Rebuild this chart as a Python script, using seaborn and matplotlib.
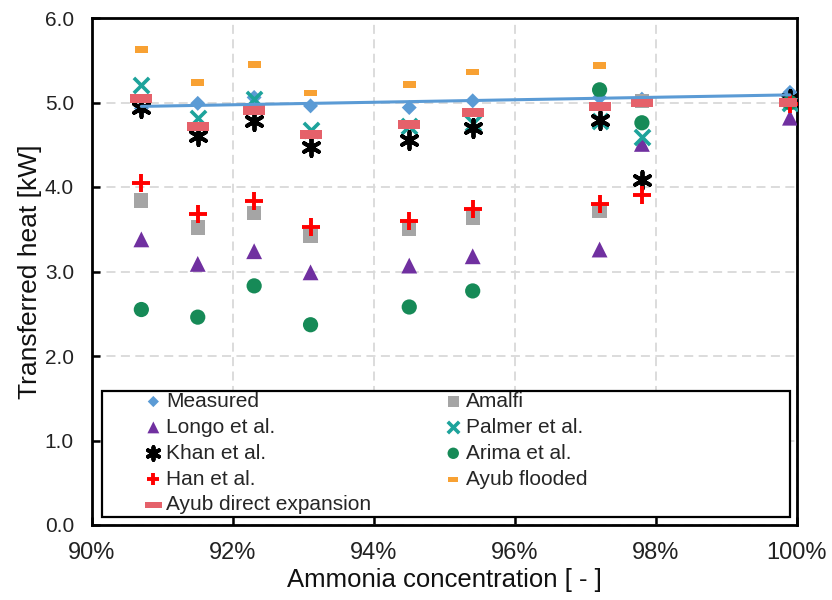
import numpy as np
import pandas as pd
import matplotlib
matplotlib.use("Agg")
import matplotlib.pyplot as plt
from matplotlib.patches import Rectangle
from matplotlib.ticker import FuncFormatter
import seaborn as sns

# ---- data ----
concentration = [0.907, 0.915, 0.923, 0.931, 0.945, 0.954, 0.972, 0.978, 0.999]
measured      = [4.93, 4.99, 5.06, 4.96, 4.94, 5.02, 5.06, 5.04, 5.12]
amalfi        = [3.84, 3.52, 3.69, 3.42, 3.51, 3.63, 3.72, 5.02, 5.00]
longo         = [3.38, 3.09, 3.24, 2.99, 3.07, 3.18, 3.26, 4.51, 4.82]
palmer        = [5.21, 4.82, 5.04, 4.68, 4.72, 4.76, 4.78, 4.59, 5.00]
khan          = [4.94, 4.60, 4.78, 4.47, 4.56, 4.70, 4.79, 4.08, 5.04]
arima         = [2.55, 2.46, 2.83, 2.37, 2.58, 2.77, 5.15, 4.76, 5.00]
han           = [4.05, 3.68, 3.84, 3.53, 3.60, 3.74, 3.80, 3.91, 4.98]
ayub_flooded  = [5.63, 5.24, 5.45, 5.11, 5.21, 5.36, 5.44, np.nan, 5.02]
ayub_dx       = [5.05, 4.72, 4.91, 4.62, 4.74, 4.88, 4.95, 5.00, 5.00]

x_ticks = [0.90, 0.92, 0.94, 0.96, 0.98, 1.00]
y_ticks = [0.0, 1.0, 2.0, 3.0, 4.0, 5.0, 6.0]

sns.set_theme(style="white")
plt.rcParams["font.family"] = ["Liberation Sans", "DejaVu Sans"]

fig = plt.figure(figsize=(8.32, 6.0), dpi=100)
ax = fig.add_axes([92 / 832, 75 / 600, 705 / 832, 507 / 600])

bar_small = [(-1, -0.5), (1, -0.5), (1, 0.5), (-1, 0.5), (-1, -0.5)]
bar_wide = [(-1, -0.42), (1, -0.42), (1, 0.42), (-1, 0.42), (-1, -0.42)]

series = [
    ("Measured", measured, dict(marker="D", color="#5B9BD5", s=58, edgecolor="none")),
    ("Amalfi", amalfi, dict(marker="s", color="#A5A5A5", s=105, edgecolor="none")),
    ("Longo et al.", longo, dict(marker="^", color="#7030A0", s=130, edgecolor="none")),
    ("Palmer et al.", palmer, dict(marker="x", color="#1DA39B", s=120, linewidth=2.6)),
    ("Khan et al.", khan, dict(marker=(6, 2, 0), color="#000000", s=150, linewidth=2.8)),
    ("Arima et al.", arima, dict(marker="o", color="#168A57", s=120, edgecolor="none")),
    ("Han et al.", han, dict(marker="+", color="#FF0000", s=150, linewidth=2.8)),
    ("Ayub flooded", ayub_flooded, dict(marker=bar_small, color="#F8A133", s=90, edgecolor="none")),
    ("Ayub direct expansion", ayub_dx, dict(marker=bar_wide, color="#E5616A", s=250, edgecolor="none")),
]

for label, vals, kw in series:
    df = pd.DataFrame({"x": concentration, "y": vals})
    sns.scatterplot(data=df, x="x", y="y", ax=ax, label=label, zorder=3, **kw)

# linear trend line of the measured values
sns.regplot(x=np.array(concentration), y=np.array(measured), scatter=False, ci=None,
            ax=ax, color="#5B9BD5", line_kws=dict(lw=2.2, zorder=4))

ax.set_xlim(0.90, 1.00)
ax.set_ylim(0.0, 6.0)
ax.set_xticks(x_ticks)
ax.set_yticks(y_ticks)
ax.xaxis.set_major_formatter(FuncFormatter(lambda v, p: f"{v*100:.0f}%"))
ax.yaxis.set_major_formatter(FuncFormatter(lambda v, p: f"{v:.1f}"))

ax.grid(True, color="#D9D9D9", lw=1.3, ls=(0, (5, 3)))
ax.set_axisbelow(True)
for sp in ax.spines.values():
    sp.set_color("black")
    sp.set_linewidth(2.0)

ax.tick_params(axis="x", direction="in", length=6, width=1.8, color="black",
               labelsize=17, pad=12, bottom=True, labelcolor="#222222")
ax.tick_params(axis="y", direction="in", length=6, width=1.8, color="black",
               labelsize=15, pad=13, left=True, labelcolor="#222222")

ax.set_xlabel("Ammonia concentration [ - ]", fontsize=18.5, color="#111111", labelpad=3)
ax.set_ylabel("Transferred heat [kW]", fontsize=19, color="#111111", labelpad=2)

# legend frame
ax.add_patch(Rectangle((10 / 705, 8 / 507), 688 / 705, 126 / 507, transform=ax.transAxes,
                       facecolor="white", edgecolor="black", lw=1.6, zorder=4))

handles, labels = ax.get_legend_handles_labels()
order = ["Measured", "Longo et al.", "Khan et al.", "Han et al.", "Ayub direct expansion",
         "Amalfi", "Palmer et al.", "Arima et al.", "Ayub flooded"]
hmap = dict(zip(labels, handles))
leg = ax.legend([hmap[o] for o in order], order, ncol=2, frameon=False,
                loc="upper left", bbox_to_anchor=(145 / 832, 1 - 392 / 600),
                bbox_transform=fig.transFigure, fontsize=15, borderpad=0,
                handlelength=0.8, handletextpad=0.2, columnspacing=3.55,
                labelspacing=0.33, markerscale=0.75, borderaxespad=0)
leg.set_zorder(5)

fig.savefig("out.png", dpi=100, facecolor="white")
